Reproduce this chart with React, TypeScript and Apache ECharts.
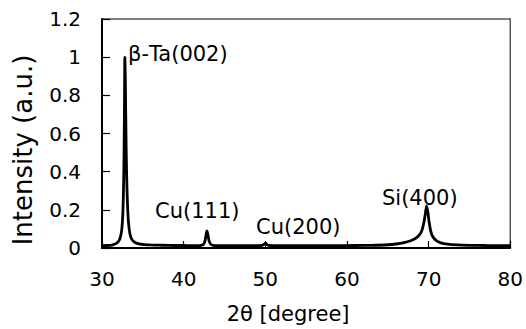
import React, { useEffect, useRef } from "react";
import * as echarts from "echarts";

// 2θ (degree) positions
const twoTheta: number[] = [
  30, 30.5, 31, 31.4, 31.8, 32.1, 32.3, 32.45, 32.55, 32.62, 32.68, 32.73, 32.77, 32.8,
  32.85, 32.9, 32.96, 33.03, 33.12, 33.25, 33.42, 33.65, 34, 34.5, 35.2, 36, 37, 38, 39,
  40, 41, 42, 42.4, 42.6, 42.75, 42.85, 42.95, 43.1, 43.3, 43.6, 45, 47, 49, 49.7, 49.9,
  50.05, 50.2, 50.5, 52, 55, 58, 61, 63, 65, 66, 67, 67.8, 68.4, 68.9, 69.2, 69.45, 69.6,
  69.75, 69.9, 70.05, 70.25, 70.5, 70.9, 71.5, 72.3, 73.5, 75, 77, 80,
];

// normalised intensity
const intensity: number[] = [
  0.012, 0.013, 0.014, 0.018, 0.026, 0.04, 0.065, 0.11, 0.18, 0.28, 0.42, 0.62, 0.85, 1.0,
  0.9, 0.72, 0.52, 0.36, 0.23, 0.13, 0.075, 0.045, 0.03, 0.022, 0.018, 0.016, 0.015, 0.014, 0.013,
  0.013, 0.012, 0.013, 0.018, 0.035, 0.07, 0.09, 0.075, 0.04, 0.02, 0.014, 0.012, 0.012, 0.012, 0.015, 0.022,
  0.025, 0.018, 0.013, 0.012, 0.012, 0.012, 0.013, 0.014, 0.017, 0.021, 0.028, 0.038, 0.05, 0.07, 0.095, 0.14, 0.18,
  0.22, 0.19, 0.14, 0.09, 0.06, 0.04, 0.027, 0.02, 0.016, 0.014, 0.013, 0.012,
];

const peakLabels: string[] = ["β-Ta(002)", "Cu(111)", "Cu(200)", "Si(400)"];

const xAxisName = "2θ [degree]";
const yAxisName = "Intensity (a.u.)";

const FONT = "DejaVu Sans";

export default function App() {
  const ref = useRef<HTMLDivElement>(null);

  useEffect(() => {
    document.body.style.margin = "0";
    if (!ref.current) return;
    const chart = echarts.init(ref.current, undefined, { renderer: "svg" });
    const data = twoTheta.map((x, i) => [x, intensity[i]]);
    const labelPos = [
      { x: 128, y: 54 },
      { x: 155, y: 211 },
      { x: 256, y: 227 },
      { x: 382, y: 198 },
    ];
    chart.setOption({
      animation: false,
      backgroundColor: "#ffffff",
      grid: {
        left: 102,
        right: 14,
        top: 19,
        bottom: 81,
        show: true,
        borderColor: "#555555",
        borderWidth: 1.5,
      },
      xAxis: {
        type: "value",
        min: 30,
        max: 80,
        interval: 10,
        name: xAxisName,
        nameLocation: "middle",
        nameGap: 55,
        nameTextStyle: { fontFamily: FONT, fontSize: 21, color: "#000", padding: [0, 36, 0, 0] },
        axisLine: { show: true, onZero: false, lineStyle: { color: "#000", width: 2 } },
        axisTick: { show: true, inside: true, length: 7, lineStyle: { color: "#000", width: 1.2 } },
        axisLabel: { fontFamily: FONT, fontSize: 20, color: "#000", margin: 21 },
        splitLine: { show: false },
      },
      yAxis: {
        type: "value",
        min: 0,
        max: 1.2,
        interval: 0.2,
        axisLine: { show: true, lineStyle: { color: "#000", width: 2 } },
        axisTick: { show: true, inside: true, length: 8, lineStyle: { color: "#000", width: 1.2 } },
        axisLabel: { fontFamily: FONT, fontSize: 20, color: "#000", margin: 21 },
        splitLine: { show: false },
      },
      series: [
        {
          type: "line",
          data,
          showSymbol: false,
          smooth: 0.2,
          lineStyle: { color: "#000", width: 2.8 },
          z: 3,
        },
      ],
      graphic: [
        ...peakLabels.map((t, i) => ({
          type: "text",
          x: labelPos[i].x,
          y: labelPos[i].y,
          style: {
            text: t,
            fontFamily: FONT,
            fontSize: 21,
            fill: "#000",
            textAlign: "left",
            textVerticalAlign: "middle",
          },
          z: 10,
        })),
        {
          type: "text",
          x: 23,
          y: 150,
          rotation: Math.PI / 2,
          style: {
            text: yAxisName,
            fontFamily: FONT,
            fontSize: 26,
            fill: "#000",
            textAlign: "center",
            textVerticalAlign: "middle",
          },
        },
      ],
    });
    return () => chart.dispose();
  }, []);

  return <div ref={ref} style={{ width: 526, height: 329 }} />;
}
